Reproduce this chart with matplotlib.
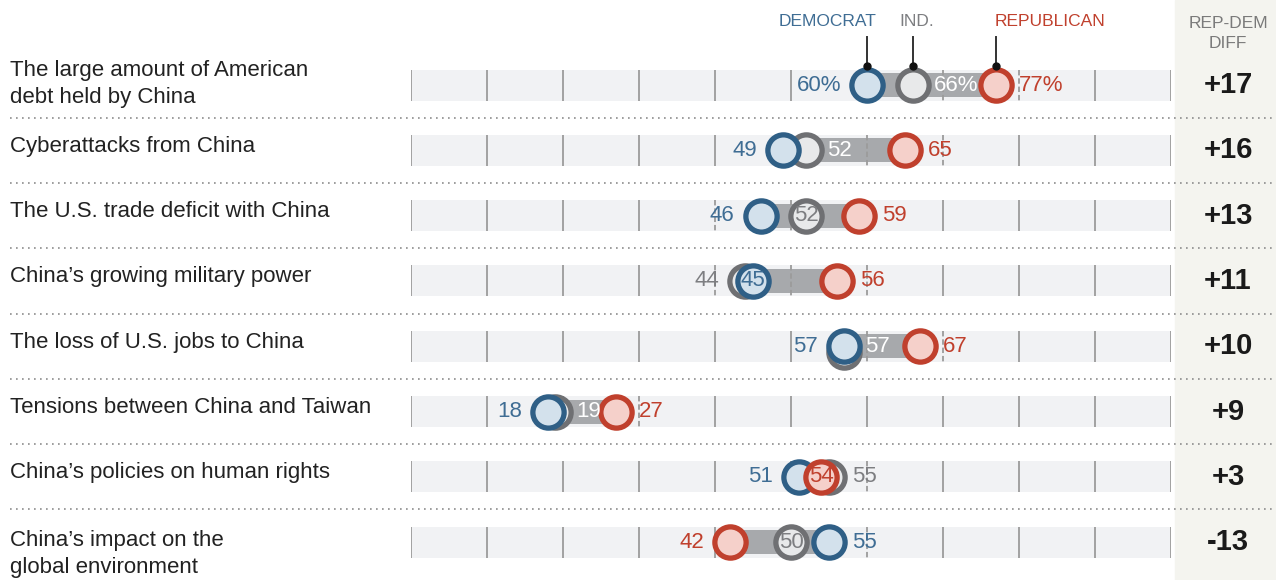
import matplotlib
matplotlib.use("Agg")
import matplotlib.pyplot as plt
import matplotlib.transforms as mtransforms

# data
issues = [
    "The large amount of American\ndebt held by China",
    "Cyberattacks from China",
    "The U.S. trade deficit with China",
    "China\u2019s growing military power",
    "The loss of U.S. jobs to China",
    "Tensions between China and Taiwan",
    "China\u2019s policies on human rights",
    "China\u2019s impact on the\nglobal environment",
]
dem = [60, 49, 46, 45, 57, 18, 51, 55]
ind = [66, 52, 52, 44, 57, 19, 55, 50]
rep = [77, 65, 59, 56, 67, 27, 54, 42]
ticks = list(range(0, 101, 10))

# where each value label goes: (dem, ind, rep)
# L = left of dot, R = right of dot, C = on the dot, W = white, inside the range bar
label_modes = [
    ("L", "W", "R"),
    ("L", "W", "R"),
    ("L", "C", "R"),
    ("C", "L", "R"),
    ("L", "W", "R"),
    ("L", "W", "R"),
    ("L", "R", "C"),
    ("R", "C", "L"),
]

# colours
band_col = "#f1f2f4"
range_col = "#a7a9ac"
tick_col = "#9b9b9b"
side_col = "#f4f4ef"
dem_edge, dem_face, dem_txt = "#2f5f86", "#d3e1ec", "#3f6d94"
ind_edge, ind_face, ind_txt = "#6f7073", "#e8e9ea", "#7d7e81"
rep_edge, rep_face, rep_txt = "#c0402d", "#f5d0ca", "#c0402d"

W, H = 1276, 580
PX = 7.6      # pixels per percentage point
PY = 65.3     # pixels per row
ROW0 = 85     # pixel y of first row

fig = plt.figure(figsize=(W / 100, H / 100), dpi=100)
fig.patch.set_facecolor("white")

# right hand column background
fig.add_artist(plt.Rectangle((1175 / W, 0), (W - 1175) / W, 1,
                             transform=fig.transFigure, color=side_col, zorder=0))

ax = fig.add_axes([411 / W, 0, 760 / W, 1])
ax.set_xlim(0, 100)
ax.set_ylim((H - ROW0) / PY, -ROW0 / PY)
ax.axis("off")
ax.patch.set_alpha(0)

num_font = ["Liberation Sans Narrow", "Liberation Sans", "DejaVu Sans"]
txt_font = ["Liberation Sans", "DejaVu Sans"]

rows = list(range(len(issues)))
band_h = 31 / PY
bar_h = 24 / PY

ax.barh(rows, [100] * len(rows), left=0, height=band_h, color=band_col, zorder=1)

blend = mtransforms.blended_transform_factory(fig.transFigure, ax.transData)

off_l = 26 / PX
off_r = 23 / PX
off_w = 21 / PX


def text_w(s):
    return (len(s.replace("%", "")) * 10.5 + (17 if "%" in s else 0)) / PX


for i in rows:
    vals = (dem[i], ind[i], rep[i])
    lo, hi = min(vals), max(vals)
    ax.barh(i, hi - lo, left=lo, height=bar_h, color=range_col, zorder=3)

    pct = "%" if i == 0 else ""
    labels = [f"{v}{pct}" for v in vals]

    # spans covered by side labels -> ticks there are drawn dashed
    spans = [(lo, hi)]
    for v, s, m in zip(vals, labels, label_modes[i]):
        if m == "L":
            spans.append((v - off_l - text_w(s), v - off_l))
        elif m == "R":
            spans.append((v + off_r, v + off_r + text_w(s)))
    for t in ticks:
        dashed = any(a - 0.2 <= t <= b + 0.2 for a, b in spans)
        ax.vlines(t, i - band_h / 2, i + band_h / 2, color=tick_col, lw=1.3,
                  linestyles=(0, (3, 1.6)) if dashed else "solid", zorder=4)

    # dots: independents at the back, republicans on top
    ind_y = i + (6 / PY if ind[i] == dem[i] else 0)
    dot = dict(ms=22.5, mew=3.8)
    ax.plot(ind[i], ind_y, "o", mfc=ind_face, mec=ind_edge, zorder=5, **dot)
    ax.plot(dem[i], i, "o", mfc=dem_face, mec=dem_edge, zorder=6, **dot)
    ax.plot(rep[i], i, "o", mfc=rep_face, mec=rep_edge, zorder=7, **dot)

    for v, s, m, c in zip(vals, labels, label_modes[i], (dem_txt, ind_txt, rep_txt)):
        kw = dict(va="center", fontsize=16, family=num_font, zorder=9)
        if m == "L":
            ax.text(v - off_l, i, s, ha="right", color=c, **kw)
        elif m == "R":
            ax.text(v + off_r, i, s, ha="left", color=c, **kw)
        elif m == "C":
            ax.text(v, i, s, ha="center", color=c, **kw)
        else:
            ax.text(v + off_w, i, s, ha="left", color="white", **kw)

    # row label
    if "\n" in issues[i]:
        ax.text(10 / W, i + (-1 / PY if i == 0 else 12 / PY), issues[i], transform=blend,
                ha="left", va="center", fontsize=16, family=txt_font,
                color="#222222", linespacing=1.33)
    else:
        ax.text(10 / W, i - 4 / PY, issues[i], transform=blend, ha="left",
                va="center", fontsize=16, family=txt_font, color="#222222")

    # rep - dem difference
    d = rep[i] - dem[i]
    ax.text(1228 / W, i, f"{d:+d}", transform=blend, ha="center", va="center",
            fontsize=21, fontweight="bold", family=txt_font, color="#1a1a1a")

    # dotted separator
    if i < len(rows) - 1:
        ax.plot([10 / W, 1], [i + 0.5, i + 0.5], transform=blend, color="#8c8c8c",
                lw=1.2, ls=(0, (1, 2.6)), clip_on=False, zorder=2)

# column header
ax.text(1228 / W, (23 - ROW0) / PY, "REP-DEM", transform=blend, ha="center",
        va="center", fontsize=12.5, family=txt_font, color="#7a7a7a")
ax.text(1228 / W, (43 - ROW0) / PY, "DIFF", transform=blend, ha="center",
        va="center", fontsize=12.5, family=txt_font, color="#7a7a7a")

# legend with leader lines to the first row
y_lab = (22 - ROW0) / PY
y_top = (37 - ROW0) / PY
y_dot = (66 - ROW0) / PY
for v, name, c, ha, dx in [(dem[0], "DEMOCRAT", dem_txt, "right", 10),
                           (ind[0], "IND.", ind_txt, "center", 4),
                           (rep[0], "REPUBLICAN", rep_txt, "left", -2)]:
    ax.text(v + dx / PX, y_lab, name, ha=ha, va="center", fontsize=12.5,
            family=txt_font, color=c, clip_on=False)
    ax.plot([v, v], [y_top, y_dot], color="#333333", lw=1.4, zorder=8, clip_on=False)
    ax.plot(v, y_dot, "o", ms=5, color="#111111", zorder=8, clip_on=False)

fig.savefig("out.png", dpi=100)
